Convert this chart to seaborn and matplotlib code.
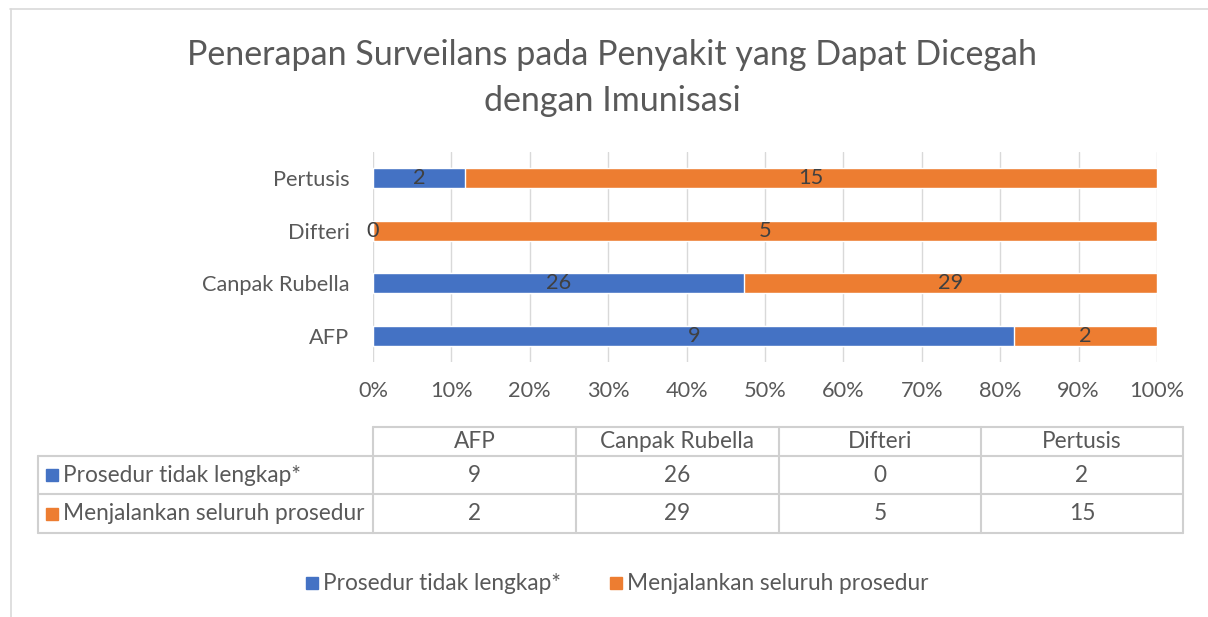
"""
100% stacked bar chart with data table, Excel-style.
"""

import matplotlib
matplotlib.use("Agg")
import matplotlib.pyplot as plt
import seaborn as sns
import pandas as pd
from matplotlib.patches import Rectangle

# Data
categories = ["AFP", "Canpak Rubella", "Difteri", "Pertusis"]
series_names = ["Prosedur tidak lengkap*", "Menjalankan seluruh prosedur"]
tidak_lengkap = [9, 26, 0, 2]
seluruh = [2, 29, 5, 15]
xtick_labels = ["0%", "10%", "20%", "30%", "40%", "50%", "60%", "70%", "80%", "90%", "100%"]
title = "Penerapan Surveilans pada Penyakit yang Dapat Dicegah\ndengan Imunisasi"

BLUE = "#4472C4"
ORANGE = "#ED7D31"
TEXT = "#595959"
LABEL = "#404040"
GRID = "#D9D9D9"
FS = 15.7      # axis and data labels
FS_TAB = 16.3  # data table and legend

sns.set_style("white")
plt.rcParams['font.family'] = ['Lato', 'DejaVu Sans']

W, H = 1208, 617
fig = plt.figure(figsize=(W / 100, H / 100), dpi=100)

df = pd.DataFrame({"cat": categories, "a": tidak_lengkap, "b": seluruh})
df["total"] = df["a"] + df["b"]
df["pct_a"] = df["a"] / df["total"] * 100
df["pct_tot"] = 100.0
order = categories[::-1]  # Pertusis on top

ax_l, ax_r, ax_t, ax_b = 373, 1157, 152, 362
ax = fig.add_axes([ax_l / W, 1 - ax_b / H, (ax_r - ax_l) / W, (ax_b - ax_t) / H])
sns.barplot(data=df, y="cat", x="pct_tot", order=order, color=ORANGE,
            width=0.38, saturation=1, ax=ax, zorder=2)
sns.barplot(data=df, y="cat", x="pct_a", order=order, color=BLUE,
            width=0.38, saturation=1, ax=ax, zorder=3)
ax.set_xlim(0, 100)
ax.set_ylim(3.5, -0.5)
ax.set_xticks(range(0, 101, 10))
ax.set_xticklabels(xtick_labels)
ax.set_xlabel("")
ax.set_ylabel("")
ax.grid(axis="x", color=GRID, linewidth=1, zorder=0)
for s in ax.spines.values():
    s.set_visible(False)
ax.tick_params(axis="x", length=0, pad=14, labelsize=FS, labelcolor=TEXT)
ax.tick_params(axis="y", length=0, pad=17, labelsize=FS, labelcolor=TEXT)

# data labels centered in segments
for i, cat in enumerate(order):
    row = df[df["cat"] == cat].iloc[0]
    pa = row["pct_a"]
    ax.text(pa / 2, i, f"{row['a']}", ha="center", va="center",
            fontsize=FS, color=LABEL, zorder=4)
    ax.text(pa + (100 - pa) / 2, i, f"{row['b']}", ha="center", va="center",
            fontsize=FS, color=LABEL, zorder=4)

# overlay in pixel coordinates for title, table, legend and frame
ov = fig.add_axes([0, 0, 1, 1], zorder=-1)
ov.set_xlim(0, W)
ov.set_ylim(H, 0)
ov.axis("off")

ov.plot([10, W], [9, 9], color=GRID, lw=1.2)
ov.plot([11, 11], [9, H], color=GRID, lw=1.2)

ov.text(612, 78, title, ha="center", va="center", fontsize=24.5, color=TEXT,
        linespacing=1.52)

# data table
col_edges = [38, 373, 576, 779, 981, 1183]
row_edges = [427, 456, 494, 533]
tcol = "#D0D0D0"
# header row (no top-left cell)
ov.plot([col_edges[1], col_edges[-1]], [row_edges[0]] * 2, color=tcol, lw=1.5)
for y in row_edges[1:]:
    ov.plot([col_edges[0], col_edges[-1]], [y, y], color=tcol, lw=1.5)
ov.plot([col_edges[0]] * 2, [row_edges[1], row_edges[-1]], color=tcol, lw=1.5)
for x in col_edges[1:]:
    ov.plot([x, x], [row_edges[0], row_edges[-1]], color=tcol, lw=1.5)

for j, cat in enumerate(categories):
    cx = (col_edges[j + 1] + col_edges[j + 2]) / 2
    ov.text(cx, (row_edges[0] + row_edges[1]) / 2, cat, ha="center", va="center",
            fontsize=FS_TAB, color=TEXT)
    for r, vals in enumerate([tidak_lengkap, seluruh]):
        ov.text(cx, (row_edges[r + 1] + row_edges[r + 2]) / 2, str(vals[j]),
                ha="center", va="center", fontsize=FS_TAB, color=TEXT)

for r, (name, c) in enumerate(zip(series_names, [BLUE, ORANGE])):
    cy = (row_edges[r + 1] + row_edges[r + 2]) / 2
    ov.add_patch(Rectangle((46, cy - 6), 12, 12, color=c))
    ov.text(63, cy, name, ha="left", va="center", fontsize=FS_TAB, color=TEXT)

# legend
for name, c, x0 in zip(series_names, [BLUE, ORANGE], [306, 610]):
    ov.add_patch(Rectangle((x0, 577), 12, 12, color=c))
    ov.text(x0 + 17, 583, name, ha="left", va="center", fontsize=FS_TAB, color=TEXT)

fig.savefig("out.png", dpi=100)
